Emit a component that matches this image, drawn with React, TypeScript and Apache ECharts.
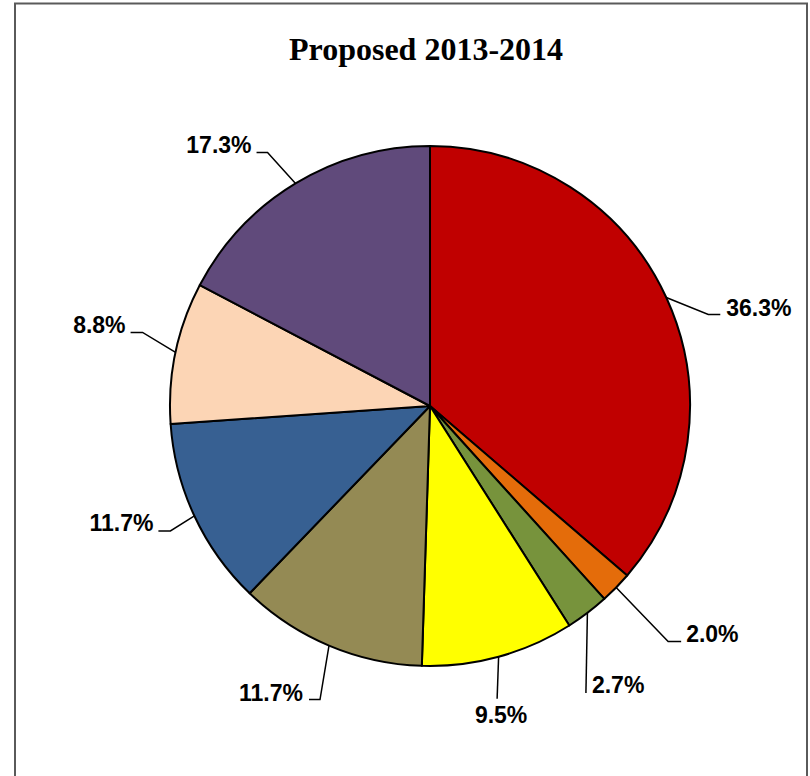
import React, { useEffect, useRef } from "react";
import * as echarts from "echarts";

// ---- Data ----
const TITLE = "Proposed 2013-2014";
const categories = ["Slice 1", "Slice 2", "Slice 3", "Slice 4", "Slice 5", "Slice 6", "Slice 7", "Slice 8"];
const percents = [36.3, 2.0, 2.7, 9.5, 11.7, 11.7, 8.8, 17.3];
const colors = ["#C00000", "#E46C0A", "#77933C", "#FFFF00", "#948A54", "#376092", "#FCD5B5", "#604A7B"];

// ---- Label leader-line layout (offsets from the slice edge point) ----
const labelLayoutSpec = [
  { ex: 42, ey: 17, h: 12, tx: 6, ty: -7, align: "left" },
  { ex: 52, ey: 54, h: 13, tx: 5, ty: -8, align: "left" },
  { ex: -1.5, ey: 80, h: 0, tx: 6, ty: -8, align: "left" },
  { ex: -1.5, ey: 42, h: 0, tx: 4, ty: 16, align: "center" },
  { ex: -9, ey: 54, h: -11, tx: -6, ty: -7, align: "right" },
  { ex: -24, ey: 15, h: -12, tx: -5, ty: -8, align: "right" },
  { ex: -33, ey: -20, h: -12, tx: -5, ty: -7, align: "right" },
  { ex: -28, ey: -31, h: -11, tx: -5, ty: -7, align: "right" },
];

const CENTER: [number, number] = [430, 406];
const RADIUS = 260;

export default function App() {
  const ref = useRef<HTMLDivElement>(null);

  useEffect(() => {
    if (!ref.current) return;
    const chart = echarts.init(ref.current, undefined, { renderer: "svg" });
    const total = percents.reduce((a, b) => a + b, 0);

    const option: any = {
      animation: false,
      backgroundColor: "#ffffff",
      title: {
        text: TITLE,
        left: 421,
        textAlign: "center",
        top: 28,
        textStyle: {
          fontFamily: '"Times New Roman", "Liberation Serif", serif',
          fontWeight: "bold",
          fontSize: 32,
          color: "#000",
        },
      },
      graphic: [
        {
          type: "rect",
          shape: { x: 15, y: 3.5, width: 792, height: 820 },
          style: { fill: "none", stroke: "#5a5a5a", lineWidth: 2 },
          silent: true,
          z: -1,
        },
      ],
      series: [
        {
          type: "pie",
          center: CENTER,
          radius: RADIUS,
          startAngle: 90,
          clockwise: true,
          avoidLabelOverlap: false,
          data: categories.map((name, i) => ({
            name,
            value: percents[i],
            itemStyle: { color: colors[i] },
          })),
          itemStyle: { borderColor: "#000", borderWidth: 2 },
          label: {
            show: true,
            position: "outside",
            formatter: (p: any) => p.value.toFixed(1) + "%",
            fontFamily: 'Arial, "Liberation Sans", sans-serif',
            fontWeight: "bold",
            fontSize: 23,
            color: "#000",
          },
          labelLine: {
            show: true,
            length: 20,
            length2: 10,
            lineStyle: { color: "#000", width: 1.5 },
          },
          emphasis: { disabled: true },
          labelLayout: (params: any) => {
            const i = params.dataIndex;
            const L = labelLayoutSpec[i];
            let p0 = params.labelLinePoints && params.labelLinePoints[0];
            if (!p0) {
              let acc = 0;
              for (let k = 0; k < i; k++) acc += percents[k];
              const mid = ((acc + percents[i] / 2) / total) * Math.PI * 2;
              p0 = [CENTER[0] + RADIUS * Math.sin(mid), CENTER[1] - RADIUS * Math.cos(mid)];
            }
            const elbow = [p0[0] + L.ex, p0[1] + L.ey];
            const end = [elbow[0] + L.h, elbow[1]];
            return {
              x: end[0] + L.tx,
              y: end[1] + L.ty,
              align: L.align,
              verticalAlign: "middle",
              labelLinePoints: [p0, elbow, end],
            };
          },
        },
      ],
    };
    chart.setOption(option);
    return () => chart.dispose();
  }, []);

  return (
    <div
      ref={ref}
      style={{ position: "absolute", left: 0, top: 0, width: 810, height: 776 }}
    />
  );
}
